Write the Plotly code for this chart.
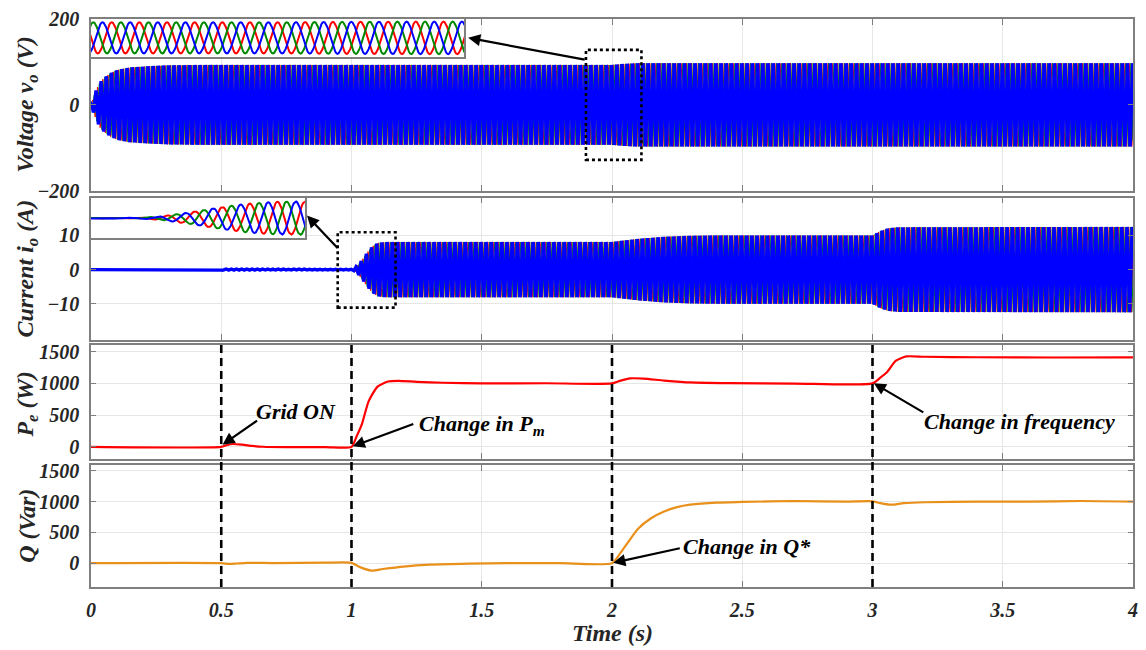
import numpy as np
import plotly.graph_objects as go

# ---------------- simulation record ----------------
F_GRID = 50.0            # fundamental frequency (Hz)
T_END = 4.0              # record length (s)
SAMPLES_PER_CYCLE = 24

# amplitude envelope of the three-phase output voltage (V)
v_env_t = [0, 0.01, 0.02, 0.035, 0.05, 0.075, 0.1, 0.15, 0.225, 0.3, 0.45, 2.0, 2.05, 2.1, 4.0]
v_env_a = [0, 20, 36, 53, 63, 74, 81, 87, 90, 92, 93, 93, 95.5, 97, 97]

# amplitude envelope of the three-phase output current (A)
i_env_t = [0, 0.5, 0.5, 1.0, 1.02, 1.04, 1.06, 1.08, 1.1, 1.13, 2.0, 2.1, 2.2, 2.3, 2.4, 3.0, 3.03, 3.06, 3.1, 4.0]
i_env_a = [0, 0, 0.2, 0.15, 1.0, 2.8, 5.0, 6.8, 7.8, 8.1, 8.1, 9.0, 9.6, 9.9, 10.0, 10.0, 11.3, 12.1, 12.4, 12.5]

# electrical active power P_e (W)
p_t = [0, 0.5, 0.52, 0.545, 0.58, 0.62, 0.66, 0.75, 0.9, 1.0, 1.02, 1.04, 1.066, 1.1, 1.14, 1.18,
       1.25, 1.35, 1.5, 1.75, 2.0, 2.03, 2.07, 2.12, 2.2, 2.3, 2.45, 2.7, 3.0, 3.03, 3.056, 3.09,
       3.13, 3.2, 3.4, 3.7, 4.0]
p_w = [0, 0, 25, 45, 35, 15, 2, -5, -3, 0, 170, 360, 720, 950, 1030, 1040,
       1025, 1010, 1000, 1002, 1000, 1040, 1080, 1075, 1045, 1015, 1003, 998, 1000, 1090, 1180, 1357,
       1425, 1420, 1412, 1408, 1410]

# reactive power Q (Var)
q_t = [0, 0.5, 0.53, 0.56, 0.6, 0.7, 0.9, 1.0, 1.03, 1.077, 1.12, 1.2, 1.3, 1.45, 1.6, 1.8,
       2.0, 2.03, 2.06, 2.1, 2.15, 2.2, 2.25, 2.3, 2.4, 2.5, 2.7, 2.9, 3.0, 3.03, 3.07, 3.12,
       3.2, 3.4, 3.6, 3.8, 4.0]
q_var = [0, 0, -12, -5, 5, 2, 8, 5, -60, -120, -95, -55, -25, -8, 0, 0,
         0, 150, 330, 560, 730, 840, 910, 950, 985, 995, 1010, 1000, 1005, 975, 950, 975,
         990, 1000, 1000, 1010, 1000]

x_ticks = [0, 0.5, 1, 1.5, 2, 2.5, 3, 3.5, 4]
x_tick_text = ["0", "0.5", "1", "1.5", "2", "2.5", "3", "3.5", "4"]
event_times = [0.5, 1, 2, 3]

PHASE_COLORS = ["#ff0000", "#008a00", "#0000ff"]
PHASE_WIDTHS = [1.0, 1.0, 3.4]      # phase c drawn last and heavier
P_COLOR = "#ff0000"
Q_COLOR = "#e8901a"
FRAME = "#7f7f7f"
GRID = "#e6e6e6"
FONT = "'Liberation Serif', 'Times New Roman', Times, serif"

# ---------------- waveforms ----------------
t = np.linspace(0, T_END, int(T_END * F_GRID * SAMPLES_PER_CYCLE) + 1)
env_v = np.interp(t, v_env_t, v_env_a)
env_i = np.interp(t, i_env_t, i_env_a)

fig = go.Figure()

for k, (col, w) in enumerate(zip(PHASE_COLORS, PHASE_WIDTHS)):
    ph = 2 * np.pi * F_GRID * t - 2 * np.pi * k / 3
    v = env_v * np.sin(ph)
    i = env_i * np.sin(ph + 0.6)
    fig.add_trace(go.Scatter(x=t, y=v, mode="lines", line=dict(color=col, width=w),
                             xaxis="x", yaxis="y", showlegend=False))
    fig.add_trace(go.Scatter(x=t, y=i, mode="lines", line=dict(color=col, width=w),
                             xaxis="x2", yaxis="y2", showlegend=False))
    # zoomed views
    fig.add_trace(go.Scatter(x=t, y=v, mode="lines", line=dict(color=col, width=2),
                             xaxis="x5", yaxis="y5", showlegend=False))
    fig.add_trace(go.Scatter(x=t, y=i, mode="lines", line=dict(color=col, width=2),
                             xaxis="x6", yaxis="y6", showlegend=False))

fig.add_trace(go.Scatter(x=p_t, y=p_w, mode="lines", line=dict(color=P_COLOR, width=2.2, shape="spline", smoothing=0.6),
                         xaxis="x3", yaxis="y3", showlegend=False))
fig.add_trace(go.Scatter(x=q_t, y=q_var, mode="lines", line=dict(color=Q_COLOR, width=2.2, shape="spline", smoothing=0.6),
                         xaxis="x4", yaxis="y4", showlegend=False))

# ---------------- axes ----------------
tickfont = dict(family=FONT, size=20, color="#262626", weight="bold", style="italic")

def xax(domain_y_anchor, show_labels):
    return dict(range=[0, T_END], tickvals=x_ticks, ticktext=x_tick_text,
                showticklabels=show_labels, tickfont=tickfont,
                showgrid=True, gridcolor=GRID, gridwidth=1, zeroline=False,
                showline=True, linecolor=FRAME, linewidth=1.5, mirror="allticks",
                ticks="inside", ticklen=6, tickcolor=FRAME, anchor=domain_y_anchor,
                matches="x4" if domain_y_anchor != "y4" else None,
                ticklabelstandoff=4)

def yax(domain, rng, vals, anchor):
    return dict(domain=domain, range=rng, tickvals=vals, tickfont=tickfont,
                showgrid=True, gridcolor=GRID, gridwidth=1, zeroline=False,
                showline=True, linecolor=FRAME, linewidth=1.5, mirror="allticks",
                ticks="inside", ticklen=5, tickcolor=FRAME, anchor=anchor,
                ticklabelstandoff=6)

def inset(domain_x, domain_y, xr, yr, anchor):
    xa = dict(domain=domain_x, range=xr, showticklabels=False, ticks="", showgrid=False,
              zeroline=False, showline=True, linecolor=FRAME, linewidth=1.5, mirror=True,
              anchor="y" + anchor)
    ya = dict(domain=domain_y, range=yr, showticklabels=False, ticks="", showgrid=False,
              zeroline=False, showline=True, linecolor=FRAME, linewidth=1.5, mirror=True,
              anchor="x" + anchor)
    return xa, ya

x5, y5 = inset([0, 0.3582], [0.9336, 1.0], [1.87, 2.14], [-113, 113], "5")
x6, y6 = inset([0, 0.2053], [0.6136, 0.6853], [0.968, 1.123], [-9.8, 9.8], "6")

fig.update_layout(
    width=1146, height=650,
    margin=dict(l=91, r=8, t=15, b=63),
    paper_bgcolor="white", plot_bgcolor="white",
    xaxis=xax("y", False), xaxis2=xax("y2", False), xaxis3=xax("y3", False), xaxis4=xax("y4", True),
    yaxis=yax([0.6976, 1.0], [-200, 200], [-200, 0, 200], "x"),
    yaxis2=yax([0.4353, 0.6853], [-20.5, 21], [-10, 0, 10], "x2"),
    yaxis3=yax([0.2255, 0.4266], [-190, 1610], [0, 500, 1000, 1500], "x3"),
    yaxis4=yax([0.0, 0.2150], [-387, 1597], [0, 500, 1000, 1500], "x4"),
    xaxis5=x5, yaxis5=y5, xaxis6=x6, yaxis6=y6,
)

# ---------------- shapes ----------------
shapes = []
for te in event_times:
    shapes.append(dict(type="line", xref="x4", yref="paper", x0=te, x1=te, y0=0, y1=0.4266,
                       line=dict(color="black", width=2.6, dash="8px,5px")))
# zoom windows
shapes.append(dict(type="rect", xref="x", yref="y", x0=1.90, x1=2.113, y0=-128, y1=128,
                   line=dict(color="black", width=2.6, dash="dot")))
shapes.append(dict(type="rect", xref="x2", yref="y2", x0=0.947, x1=1.169, y0=-11.1, y1=10.9,
                   line=dict(color="black", width=2.6, dash="dot")))
fig.update_layout(shapes=shapes)

# ---------------- annotations ----------------
def px(xp):
    return (xp - 91) / 1047

def py(yp):
    return (587 - yp) / 572

title_font = dict(family=FONT, size=24, color="#262626", weight="bold", style="italic")
text_font = dict(family=FONT, size=22, color="black", weight="bold", style="italic")

ann = []
for label, yc in [("Voltage v<sub>o</sub> (V)", 101), ("Current i<sub>o</sub> (A)", 266),
                  ("P<sub>e</sub> (W)", 403), ("Q (Var)", 525)]:
    ann.append(dict(text=label, xref="paper", yref="paper", x=px(27), y=py(yc), textangle=-90,
                    showarrow=False, font=title_font, xanchor="center", yanchor="middle"))
ann.append(dict(text="Time (s)", xref="paper", yref="paper", x=px(615), y=py(633),
                showarrow=False, font=title_font, xanchor="center", yanchor="middle"))

arrow = dict(showarrow=True, arrowhead=2, arrowsize=1.1, arrowwidth=2.2, arrowcolor="black", text="")
# inset pointers
ann.append(dict(arrow, xref="paper", yref="paper", x=px(470), y=py(34), ax=118, ay=22))
ann.append(dict(arrow, xref="paper", yref="paper", x=px(308), y=py(213), ax=32, ay=34))
# event pointers
ann.append(dict(arrow, xref="x3", yref="y3", x=0.505, y=35, ax=36, ay=-25))
ann.append(dict(arrow, xref="x3", yref="y3", x=1.005, y=8, ax=62, ay=-23))
ann.append(dict(arrow, xref="x3", yref="y3", x=3.005, y=1002, ax=51, ay=30))
ann.append(dict(arrow, xref="x4", yref="y4", x=2.005, y=5, ax=68, ay=-15))

for label, xp, yp, xa in [("Grid ON", 297, 410, "center"),
                          ("Change in P<sub>m</sub>", 419, 424, "left"),
                          ("Change in frequency", 1024, 420, "center"),
                          ("Change in Q*", 684, 546, "left")]:
    ann.append(dict(text=label, xref="paper", yref="paper", x=px(xp), y=py(yp), showarrow=False,
                    font=text_font, xanchor=xa, yanchor="middle"))

fig.update_layout(annotations=ann)

fig.write_html("out.html")
